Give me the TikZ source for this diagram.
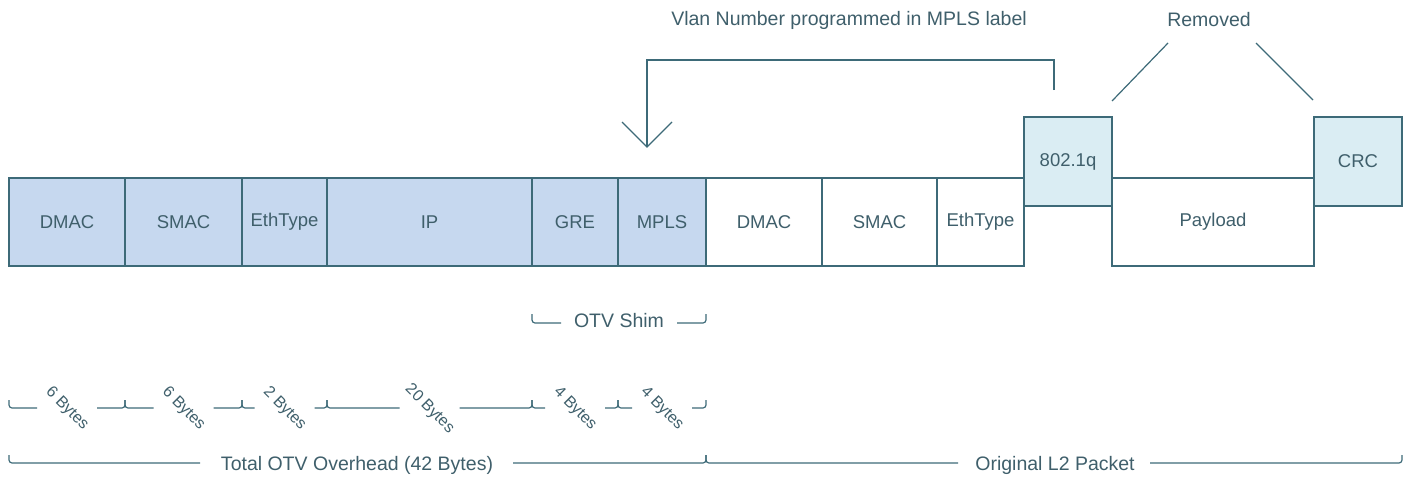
\documentclass[tikz,border=0pt]{standalone}
\usepackage{fontspec}
\setmainfont{Liberation Sans}
\definecolor{strk}{HTML}{3D6A78}
\definecolor{txt}{HTML}{3F5F6B}
\definecolor{otvfill}{HTML}{C6D8EF}
\definecolor{tagfill}{HTML}{DAEDF3}
\begin{document}
\begin{tikzpicture}[x=1pt,y=-1pt,
  fld/.style={draw=strk,line width=1.3pt,inner sep=0pt,outer sep=0pt,anchor=north west,text=txt,font=\fontsize{18.5}{20}\selectfont},
  otv/.style={fld,fill=otvfill},
  tag/.style={fld,fill=tagfill},
  plain/.style={fld,fill=white},
  lbl/.style={text=txt,font=\fontsize{19.5}{21}\selectfont,inner sep=1pt},
  blbl/.style={text=txt,font=\fontsize{16}{18}\selectfont,inner sep=0pt,rotate=-45},
  ln/.style={draw=strk,line width=1.2pt},
  br/.style={ln,rounded corners=3pt}]
\useasboundingbox (0,0) rectangle (1412,477);
% main row
\node[otv,minimum width=116pt,minimum height=88pt] (dmac1) at (9,178) {DMAC};
\node[otv,minimum width=117pt,minimum height=88pt] (smac1) at (125,178) {SMAC};
\node[otv,minimum width=85pt,minimum height=88pt] (eth1) at (242,178) {EthType};
\node[otv,minimum width=205pt,minimum height=88pt] (ip) at (327,178) {IP};
\node[otv,minimum width=86pt,minimum height=88pt] (gre) at (532,178) {GRE};
\node[otv,minimum width=88pt,minimum height=88pt] (mpls) at (618,178) {MPLS};
\node[plain,minimum width=116pt,minimum height=88pt] (dmac2) at (706,178) {DMAC};
\node[plain,minimum width=115pt,minimum height=88pt] (smac2) at (822,178) {SMAC};
\node[plain,minimum width=87pt,minimum height=88pt] (eth2) at (937,178) {EthType};
\node[tag,minimum width=88pt,minimum height=89pt] (dot1q) at (1024,117) {802.1q};
\node[plain,minimum width=202pt,minimum height=88pt] (payload) at (1112,178) {Payload};
\node[tag,minimum width=88pt,minimum height=89pt] (crc) at (1314,117) {CRC};
% top labels
\node[lbl] (vlan) at (849,20) {Vlan Number programmed in MPLS label};
\node[lbl] (removed) at (1209,20) {Removed};
% arrow
\coordinate (astart) at (1054,90);
\coordinate (atip) at (647,147);
\draw[ln] (astart) -- (1054,60) -- (647,60) -- (atip);
\draw[ln] (622,122) -- (atip) -- (672,122);
% removed lines
\coordinate (r1) at (1112,101);
\coordinate (r2) at (1313,100);
\draw[ln] (1168,43) -- (r1);
\draw[ln] (1256,43) -- (r2);
% OTV shim
\node[lbl] (shim) at (619,321) {OTV Shim};
\draw[br] (532,314) -- (532,323) -- (561,323);
\draw[br] (677,323) -- (706,323) -- (706,314);
% byte brackets
\foreach \a/\b/\t [count=\i] in {9/125/6 Bytes,125/242/6 Bytes,242/327/2 Bytes,327/532/20 Bytes,532/618/4 Bytes,618/706/4 Bytes}{
  \pgfmathsetmacro{\m}{(\a+\b)/2}
  \node[blbl] (b\i) at (\m,409) {\t};
  \draw[br] (\a,400) -- (\a,408) -- (\m-30,408);
  \draw[br] (\m+30,408) -- (\b,408) -- (\b,400);
}
% total brackets
\node[lbl] (total) at (357,465) {Total OTV Overhead (42 Bytes)};
\node[lbl] (orig) at (1055,465) {Original L2 Packet};
\draw[br] (9,455) -- (9,463) -- (200,463);
\draw[br] (513,463) -- (706,463) -- (706,455);
\draw[br] (706,455) -- (706,463) -- (958,463);
\draw[br] (1150,463) -- (1402,463) -- (1402,455);
\end{tikzpicture}
\end{document}
